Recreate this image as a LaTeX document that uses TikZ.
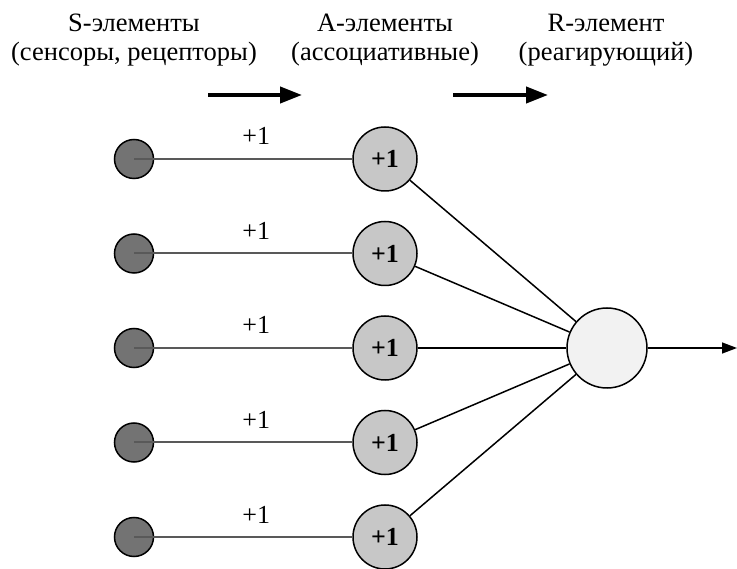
\documentclass[tikz,border=0pt]{standalone}
\usepackage{fontspec}
\setmainfont{Liberation Serif}
\usetikzlibrary{arrows.meta}

\definecolor{sfill}{gray}{0.45}
\definecolor{afill}{gray}{0.78}
\definecolor{rfill}{gray}{0.95}
\definecolor{sline}{gray}{0.35}

\begin{document}
\begin{tikzpicture}[x=1pt,y=-1pt,
  head/.style={anchor=base,inner sep=0pt,font=\fontsize{26.5}{30}\selectfont},
  sneur/.style={circle,draw,line width=1.5pt,fill=sfill,minimum size=39pt,inner sep=0pt},
  aneur/.style={circle,draw,line width=1.5pt,fill=afill,minimum size=64pt,inner sep=0pt,
    font=\fontsize{26}{30}\selectfont\bfseries},
  rneur/.style={circle,draw,line width=1.5pt,fill=rfill,minimum size=80pt,inner sep=0pt},
  wlabel/.style={font=\fontsize{26}{30}\selectfont,inner sep=0pt,text=black}]

\useasboundingbox (0,0) rectangle (737,569);

% ===== En-tetes =====
\node[head] (hs1) at (134,32) {S-элементы};
\node[head] (hs2) at (134,61) {(сенсоры, рецепторы)};
\node[head] (ha1) at (385,32) {A-элементы};
\node[head] (ha2) at (385,61) {(ассоциативные)};
\node[head] (hr1) at (606,32) {R-элемент};
\node[head] (hr2) at (606,61) {(реагирующий)};

% Fleches epaisses
\coordinate (f1a) at (208,95);
\coordinate (f1b) at (302,95);
\coordinate (f2a) at (453,95);
\coordinate (f2b) at (548,95);
\draw[line width=4pt,-{Triangle[length=22pt,width=16pt]}] (f1a) -- (f1b);
\draw[line width=4pt,-{Triangle[length=22pt,width=16pt]}] (f2a) -- (f2b);

% ===== Element R =====
\node[rneur] (r) at (607,348) {};
\coordinate (out) at (737,348);
\draw[line width=1.4pt,-{Triangle[length=15pt,width=11pt]}] (r) -- (out);

% ===== Couches S et A =====
\foreach \i in {1,...,5} {
  \pgfmathsetmacro{\yy}{159+94.5*(\i-1)}
  \node[sneur] (s\i) at (134,\yy) {};
  \node[aneur] (a\i) at (385,\yy) {+1};
  \draw[sline,line width=2pt] (s\i.center) -- (a\i)
    node[wlabel,pos=0.56,above=13pt] {+1};
  \draw[line width=1.5pt] (a\i) -- (r);
}

\end{tikzpicture}
\end{document}
